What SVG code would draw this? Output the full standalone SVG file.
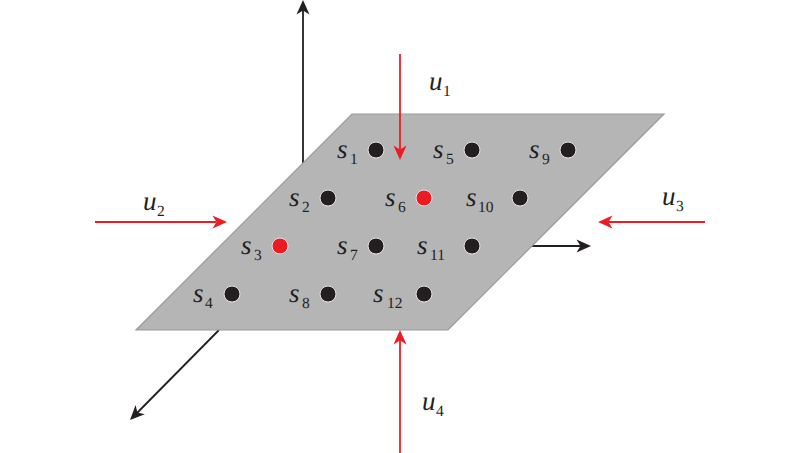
<svg xmlns="http://www.w3.org/2000/svg" width="800" height="453" viewBox="0 0 800 453">
<style>
.k{stroke:#231f20;stroke-width:1.8;fill:none}
.r{stroke:#ed1c24;stroke-width:1.8;fill:none}
.kh{fill:#231f20;stroke:none}
.rh{fill:#ed1c24;stroke:none}
.d{fill:#231f20;stroke:#e6e6e6;stroke-width:1}
.e{fill:#ed1c24;stroke:#e6e6e6;stroke-width:1}
.v,.b{font-family:"Times New Roman","Liberation Serif",serif;fill:#231f20;text-rendering:geometricPrecision}
.v{font-size:27px;font-style:italic}
.b{font-size:15.5px}
</style>
<defs>
<path id="head" d="M0 0L-14.5 -6.5L-10.5 0L-14.5 6.5Z"/>
</defs>
<g id="connectors-behind">
<line class="k" x1="303" y1="165" x2="303" y2="8"/>
<use href="#head" class="kh" transform="translate(303 0) rotate(-90)"/>
<line class="k" x1="530" y1="246" x2="582" y2="246"/>
<use href="#head" class="kh" transform="translate(591 246)"/>
<line class="k" x1="219" y1="330" x2="137" y2="413"/>
<use href="#head" class="kh" transform="translate(130 420) rotate(134.7)"/>
</g>
<g id="plane"><polygon points="352,114 664,114 448,330 136,330" fill="#b5b5b5" stroke="#9a9a9a" stroke-width="1.2"/></g>
<g id="s1"><circle class="d" cx="376" cy="150" r="8"/><text class="v" x="337" y="158">s</text><text class="b" x="350" y="164">1</text></g>
<g id="s2"><circle class="d" cx="328" cy="198" r="8"/><text class="v" x="289" y="206">s</text><text class="b" x="302" y="212">2</text></g>
<g id="s3"><circle class="e" cx="280" cy="246" r="8"/><text class="v" x="241" y="254">s</text><text class="b" x="254" y="260">3</text></g>
<g id="s4"><circle class="d" cx="232" cy="294" r="8"/><text class="v" x="193" y="302">s</text><text class="b" x="205" y="308">4</text></g>
<g id="s5"><circle class="d" cx="472" cy="150" r="8"/><text class="v" x="433" y="158">s</text><text class="b" x="446" y="164">5</text></g>
<g id="s6"><circle class="e" cx="424" cy="198" r="8"/><text class="v" x="385" y="206">s</text><text class="b" x="398" y="212">6</text></g>
<g id="s7"><circle class="d" cx="376" cy="246" r="8"/><text class="v" x="337" y="254">s</text><text class="b" x="350" y="260">7</text></g>
<g id="s8"><circle class="d" cx="328" cy="294" r="8"/><text class="v" x="289" y="302">s</text><text class="b" x="302" y="308">8</text></g>
<g id="s9"><circle class="d" cx="568" cy="150" r="8"/><text class="v" x="529" y="158">s</text><text class="b" x="542" y="164">9</text></g>
<g id="s10"><circle class="d" cx="520" cy="198" r="8"/><text class="v" x="466" y="206">s</text><text class="b" x="478" y="212">10</text></g>
<g id="s11"><circle class="d" cx="472" cy="246" r="8"/><text class="v" x="417" y="254">s</text><text class="b" x="430" y="260">11</text></g>
<g id="s12"><circle class="d" cx="424" cy="294" r="8"/><text class="v" x="373" y="302">s</text><text class="b" x="387" y="308">12</text></g>
<g id="connectors">
<line class="r" x1="400" y1="54" x2="400" y2="150"/>
<use href="#head" class="rh" transform="translate(400 160) rotate(90)"/>
<line class="r" x1="95" y1="222" x2="216" y2="222"/>
<use href="#head" class="rh" transform="translate(227 222)"/>
<line class="r" x1="705" y1="222" x2="608" y2="222"/>
<use href="#head" class="rh" transform="translate(598 222) rotate(180)"/>
<line class="r" x1="400" y1="453" x2="400" y2="340"/>
<use href="#head" class="rh" transform="translate(400 330) rotate(-90)"/>
</g>
<g id="u1"><text class="v" x="429" y="90">u</text><text class="b" x="443" y="96">1</text></g>
<g id="u2"><text class="v" x="143" y="210">u</text><text class="b" x="157" y="216">2</text></g>
<g id="u3"><text class="v" x="662" y="205">u</text><text class="b" x="676" y="211">3</text></g>
<g id="u4"><text class="v" x="422" y="410">u</text><text class="b" x="436" y="416">4</text></g>
</svg>
